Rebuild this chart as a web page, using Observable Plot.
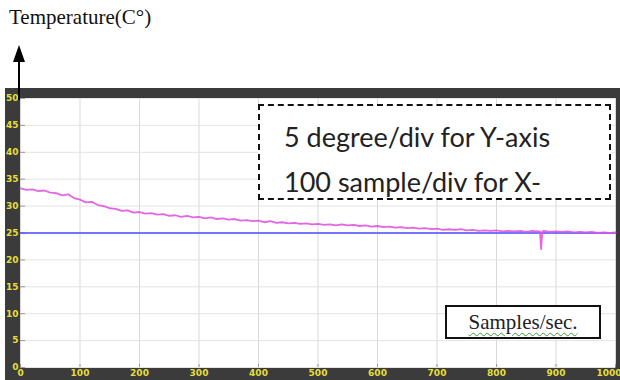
<!DOCTYPE html>
<html><head><meta charset="utf-8">
<script src="https://cdn.jsdelivr.net/npm/d3@7"></script>
<script src="https://cdn.jsdelivr.net/npm/@observablehq/plot@0.6"></script>
<style>
body{margin:0;background:#fff;}
#wrap{position:relative;width:620px;height:380px;overflow:hidden;background:#fff;}
#title{position:absolute;left:9px;top:5px;font:21px "Liberation Serif",serif;color:#111;white-space:nowrap;}
#arrow{position:absolute;left:0;top:0;}
#chart{position:absolute;left:5px;top:88px;}
#note{position:absolute;left:258px;top:104px;width:353px;height:96px;border:2px dashed #111;background:#fff;font:27px Lato,sans-serif;color:#222;box-sizing:border-box;padding:8px 0 0 24px;line-height:45px;white-space:nowrap;overflow:hidden;}
#unit{position:absolute;left:445px;top:305px;width:156px;height:34px;border:2px solid #111;background:#fff;box-sizing:border-box;font:21px "Liberation Serif",serif;color:#222;text-align:center;line-height:30px;}
#unit span{text-decoration:underline wavy #3a9a3a;text-decoration-thickness:1px;text-underline-offset:3px;}
</style></head>
<body>
<div id="wrap">
  <div id="title">Temperature(C°)</div>
  <div id="chart"></div>
  <svg id="arrow" width="620" height="100"><line x1="19" y1="100" x2="19" y2="58" stroke="#000" stroke-width="2"/><polygon points="19,45 13,62 25,62" fill="#000"/></svg>
  <div id="note">5 degree/div for Y-axis<br>100 sample/div for X-</div>
  <div id="unit"><span>Samples/sec.</span></div>
</div>
<script>
const xTicks = [0,100,200,300,400,500,600,700,800,900,1000];
const yTicks = [0,5,10,15,20,25,30,35,40,45,50];

const samples = [0,10,20,30,40,50,60,70,80,90,100,110,120,130,140,150,160,170,180,190,200,
  210,220,230,240,250,260,270,280,290,300,310,320,330,340,350,360,370,380,390,400,
  410,420,430,440,450,460,470,480,490,500,510,520,530,540,550,560,570,580,590,600,
  610,620,630,640,650,660,670,680,690,700,710,720,730,740,750,760,770,780,790,800,
  810,820,830,840,850,860,870,873,875,877,880,890,900,910,920,930,940,950,960,970,980,990,1000];
const temps = [33.3,33.0,33.1,32.8,32.9,32.5,32.4,32.0,32.2,31.5,31.2,30.7,30.8,30.2,30.0,29.6,29.5,29.1,29.2,28.8,28.9,
  28.6,28.7,28.4,28.5,28.2,28.3,28.0,28.2,27.9,28.0,27.7,27.9,27.6,27.7,27.5,27.6,27.3,27.4,27.2,27.3,
  27.0,27.2,26.9,27.0,26.8,26.9,26.7,26.8,26.6,26.7,26.5,26.6,26.4,26.6,26.4,26.5,26.3,26.4,26.2,26.3,
  26.1,26.2,26.0,26.1,25.9,26.0,25.8,25.9,25.7,25.8,25.6,25.7,25.6,25.7,25.5,25.6,25.4,25.5,25.4,25.5,
  25.3,25.4,25.3,25.4,25.2,25.4,25.3,25.3,22.0,25.3,25.4,25.2,25.3,25.2,25.3,25.1,25.2,25.1,25.2,25.0,25.1,25.0,25.1];

const refSamples = [0,1000];
const refTemps = [25,25];

const data = samples.map((s,i)=>({s, t: temps[i]}));
const ref = refSamples.map((s,i)=>({s, t: refTemps[i]}));

const yellow = "#e6df3a";
const axisStyle = {tickSize: 0, tickPadding: 2, fill: yellow, fontWeight: "bold", fontSize: 9, label: null, tickFormat: d => String(d)};
const chart = Plot.plot({
  width: 615, height: 292,
  marginLeft: 15, marginRight: 5, marginTop: 10, marginBottom: 13,
  style: {background: "#3b3b3b", overflow: "hidden", fontFamily: "DejaVu Sans, sans-serif"},
  x: {domain: [0,1000], label: null},
  y: {domain: [0,50], label: null},
  marks: [
    Plot.frame({fill: "#fff", stroke: "none"}),
    Plot.gridX(xTicks, {stroke: "#d9d9d9", strokeOpacity: 1}),
    Plot.gridY(yTicks, {stroke: "#e3e3e3", strokeOpacity: 1}),
    Plot.tickY(yTicks, {y: d=>d, insetRight: 590, stroke: "#999"}),
    Plot.tickX(xTicks, {x: d=>d, insetTop: 266, stroke: "#999"}),
    Plot.axisY(yTicks, axisStyle),
    Plot.axisX(xTicks.slice(0, -1), axisStyle),
    Plot.axisX(xTicks.slice(-1), {...axisStyle, textAnchor: "end", dx: 6}),
    Plot.line(ref, {x: "s", y: "t", stroke: "#4b4bff", strokeWidth: 1.5}),
    Plot.line(data, {x: "s", y: "t", stroke: "#e055e0", strokeWidth: 1.8, strokeOpacity: 0.9})
  ]
});
document.getElementById("chart").appendChild(chart);
</script>
</body></html>
